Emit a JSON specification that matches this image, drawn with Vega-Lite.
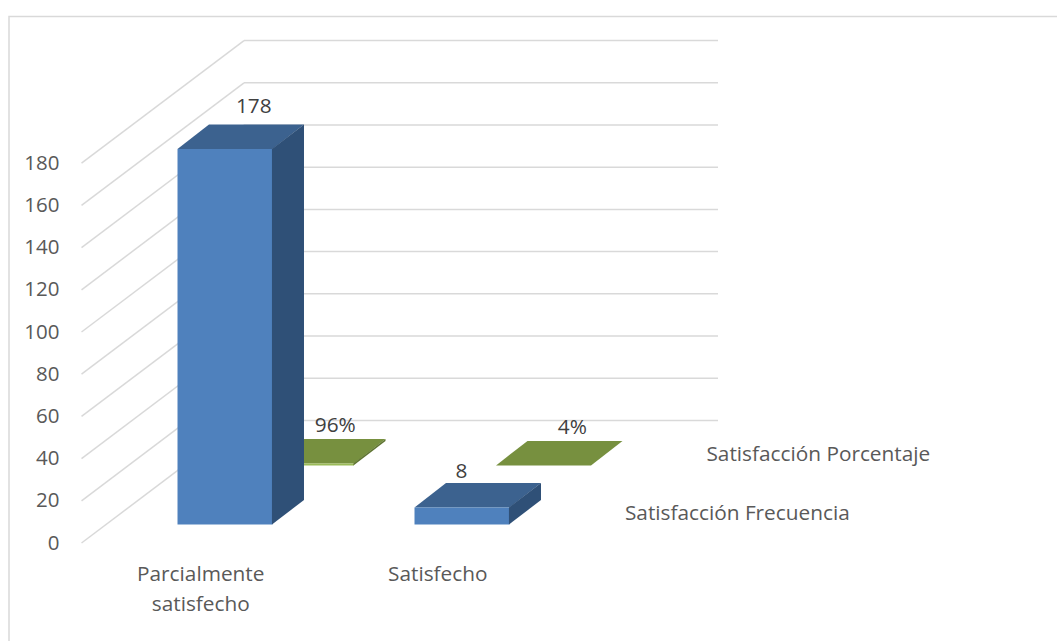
{
  "$schema": "https://vega.github.io/schema/vega-lite/v6.json",
  "width": 1057,
  "height": 641,
  "padding": 0,
  "autosize": "none",
  "background": "white",
  "config": {
    "view": {"stroke": null},
    "text": {"font": "Open Sans", "fontSize": 20.8},
    "axisY": {
      "orient": "left", "offset": -59, "title": null, "domain": false, "ticks": false, "grid": false,
      "labelPadding": 0, "labelFont": "Open Sans", "labelFontSize": 20.5, "labelColor": "#595959"
    }
  },
  "datasets": {
    "barras": [
      {"categoria": "Parcialmente satisfecho", "serie": "Satisfacción Porcentaje", "valor": 0.96, "etiqueta": "96%"},
      {"categoria": "Satisfecho", "serie": "Satisfacción Porcentaje", "valor": 0.04, "etiqueta": "4%"},
      {"categoria": "Parcialmente satisfecho", "serie": "Satisfacción Frecuencia", "valor": 178, "etiqueta": "178"},
      {"categoria": "Satisfecho", "serie": "Satisfacción Frecuencia", "valor": 8, "etiqueta": "8"}
    ],
    "marcas": [
      {"marca": 0}, {"marca": 20}, {"marca": 40}, {"marca": 60}, {"marca": 80},
      {"marca": 100}, {"marca": 120}, {"marca": 140}, {"marca": 160}, {"marca": 180}
    ]
  },
  "layer": [
    {
      "description": "Outer chart frame",
      "data": {"values": [{"marco": 1}]},
      "mark": {"type": "rect", "fillOpacity": 0, "stroke": "#D9D9D9", "strokeWidth": 1.5},
      "encoding": {
        "x": {"datum": -0.711, "type": "quantitative", "scale": {"domain": [-0.749, 3.711]}, "axis": null},
        "x2": {"datum": 3.8},
        "y": {"datum": 249.5, "type": "quantitative", "scale": {"domain": [-46.445, 257.346]}, "axis": {"values": [0, 20, 40, 60, 80, 100, 120, 140, 160, 180], "title": null}},
        "y2": {"datum": -60}
      }
    },
    {
      "description": "Side wall gridlines running from the front edge to the back corner",
      "data": {"name": "marcas"},
      "transform": [{"calculate": "datum.marca + 58.1", "as": "fondo"}],
      "layer": [
        {
          "mark": {"type": "rule", "color": "#D9D9D9", "strokeWidth": 1.5},
          "encoding": {
            "x": {"datum": -0.405, "type": "quantitative", "scale": {"domain": [-0.749, 3.711]}, "axis": null},
            "x2": {"datum": 0.2806},
            "y": {"field": "marca", "type": "quantitative", "scale": {"domain": [-46.445, 257.346]}, "axis": {"values": [0, 20, 40, 60, 80, 100, 120, 140, 160, 180], "title": null}},
            "y2": {"field": "fondo"}
          }
        },
        {
          "mark": {"type": "rule", "color": "#D9D9D9", "strokeWidth": 1.5},
          "encoding": {
            "x": {"datum": 0.2806, "type": "quantitative", "scale": {"domain": [-0.749, 3.711]}, "axis": null},
            "x2": {"datum": 2.2806},
            "y": {"field": "fondo", "type": "quantitative", "scale": {"domain": [-46.445, 257.346]}, "axis": {"values": [0, 20, 40, 60, 80, 100, 120, 140, 160, 180], "title": null}}
          }
        }
      ]
    },
    {
      "description": "3D bars: the category and series choose the floor position, the value sets the height",
      "data": {"name": "barras"},
      "transform": [
        {"calculate": "datum.categoria === 'Satisfecho' ? 1 : 0", "as": "columna"},
        {"calculate": "datum.serie === 'Satisfacción Porcentaje' ? 1 : 0", "as": "fila"},
        {"calculate": "datum.columna + datum.fila * 0.3439", "as": "bx"},
        {"calculate": "8.77 + datum.fila * 27.96", "as": "by"}
      ],
      "layer": [
        {
          "description": "Top faces",
          "transform": [
            {"calculate": "[0, 1]", "as": "t"},
            {"flatten": ["t"]},
            {"calculate": "datum.bx + datum.t * 0.1329", "as": "x0"},
            {"calculate": "datum.x0 + 0.4008", "as": "x1"},
            {"calculate": "datum.by + datum.valor + datum.t * 11.61", "as": "y0"}
          ],
          "mark": {"type": "area", "orient": "horizontal"},
          "encoding": {
            "x": {"field": "x0", "type": "quantitative", "scale": {"domain": [-0.749, 3.711]}, "axis": null},
            "x2": {"field": "x1"},
            "y": {"field": "y0", "type": "quantitative", "scale": {"domain": [-46.445, 257.346]}, "axis": {"values": [0, 20, 40, 60, 80, 100, 120, 140, 160, 180], "title": null}},
            "detail": {"field": "etiqueta"},
            "fill": {"condition": {"test": "datum.fila === 1", "value": "#77903F"}, "value": "#3C628F"}
          }
        },
        {
          "description": "Front faces",
          "transform": [
            {"calculate": "datum.bx + 0.4008", "as": "x1"},
            {"calculate": "datum.by + datum.valor", "as": "y1"}
          ],
          "mark": {"type": "rect"},
          "encoding": {
            "x": {"field": "bx", "type": "quantitative", "scale": {"domain": [-0.749, 3.711]}, "axis": null},
            "x2": {"field": "x1"},
            "y": {"field": "by", "type": "quantitative", "scale": {"domain": [-46.445, 257.346]}, "axis": {"values": [0, 20, 40, 60, 80, 100, 120, 140, 160, 180], "title": null}},
            "y2": {"field": "y1"},
            "fill": {"condition": {"test": "datum.fila === 1", "value": "#9BBB59"}, "value": "#4F81BD"}
          }
        },
        {
          "description": "Side faces, slightly overlapping the front face so no seam shows",
          "transform": [
            {"calculate": "[0, 1]", "as": "t"},
            {"flatten": ["t"]},
            {"calculate": "datum.bx + 0.3985 + datum.t * 0.1352", "as": "x0"},
            {"calculate": "datum.by + datum.valor + datum.t * 11.61", "as": "y0"},
            {"calculate": "datum.by + datum.t * 11.61", "as": "y1"}
          ],
          "mark": {"type": "area", "orient": "vertical"},
          "encoding": {
            "x": {"field": "x0", "type": "quantitative", "scale": {"domain": [-0.749, 3.711]}, "axis": null},
            "y": {"field": "y0", "type": "quantitative", "scale": {"domain": [-46.445, 257.346]}, "axis": {"values": [0, 20, 40, 60, 80, 100, 120, 140, 160, 180], "title": null}},
            "y2": {"field": "y1"},
            "detail": {"field": "etiqueta"},
            "fill": {"condition": {"test": "datum.fila === 1", "value": "#5F7432"}, "value": "#2F5077"}
          }
        },
        {
          "description": "Value labels above each bar",
          "transform": [
            {"calculate": "datum.bx + (datum.etiqueta === '8' ? 0.198 : 0.322)", "as": "lx"},
            {"calculate": "datum.by + datum.valor + 11.61 + (datum.etiqueta === '178' ? 5.45 : datum.etiqueta === '8' ? 2.37 : 3.3)", "as": "ly"}
          ],
          "mark": {"type": "text", "align": "center", "baseline": "alphabetic", "color": "#404040"},
          "encoding": {
            "x": {"field": "lx", "type": "quantitative", "scale": {"domain": [-0.749, 3.711]}, "axis": null},
            "y": {"field": "ly", "type": "quantitative", "scale": {"domain": [-46.445, 257.346]}, "axis": {"values": [0, 20, 40, 60, 80, 100, 120, 140, 160, 180], "title": null}},
            "text": {"field": "etiqueta"}
          }
        },
        {
          "description": "Category labels on the floor edge",
          "transform": [
            {"filter": "datum.fila === 0"},
            {"calculate": "datum.columna + 0.098", "as": "lx"},
            {"calculate": "-18", "as": "ly"}
          ],
          "mark": {"type": "text", "align": "center", "baseline": "alphabetic", "color": "#595959", "lineBreak": " ", "lineHeight": 30},
          "encoding": {
            "x": {"field": "lx", "type": "quantitative", "scale": {"domain": [-0.749, 3.711]}, "axis": null},
            "y": {"field": "ly", "type": "quantitative", "scale": {"domain": [-46.445, 257.346]}, "axis": {"values": [0, 20, 40, 60, 80, 100, 120, 140, 160, 180], "title": null}},
            "text": {"field": "categoria"}
          }
        },
        {
          "description": "Series labels on the depth axis",
          "transform": [
            {"filter": "datum.columna === 1"},
            {"calculate": "datum.bx + 0.888", "as": "lx"},
            {"calculate": "datum.by + 2", "as": "ly"}
          ],
          "mark": {"type": "text", "align": "left", "baseline": "alphabetic", "color": "#595959"},
          "encoding": {
            "x": {"field": "lx", "type": "quantitative", "scale": {"domain": [-0.749, 3.711]}, "axis": null},
            "y": {"field": "ly", "type": "quantitative", "scale": {"domain": [-46.445, 257.346]}, "axis": {"values": [0, 20, 40, 60, 80, 100, 120, 140, 160, 180], "title": null}},
            "text": {"field": "serie"}
          }
        }
      ]
    }
  ]
}
